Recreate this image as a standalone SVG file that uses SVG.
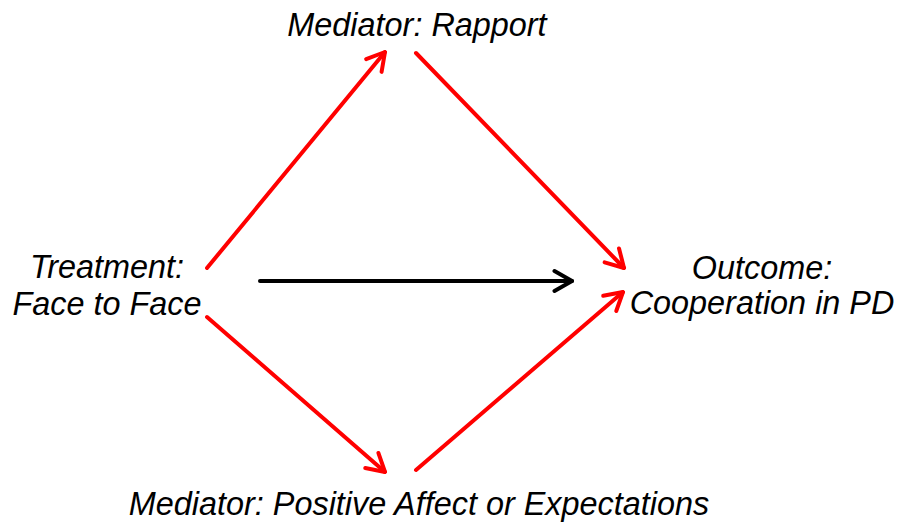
<svg xmlns="http://www.w3.org/2000/svg" width="897" height="522" viewBox="0 0 897 522">
<style>
text{font-family:"Liberation Sans",Arial,sans-serif;font-style:italic;font-size:32.4px;fill:#000;text-anchor:middle}
.red{stroke:#ff0000;stroke-width:4;fill:none;stroke-linecap:round}
.blk{stroke:#000;stroke-width:4;fill:none;stroke-linecap:round}
</style>
<defs>
<marker id="ab" viewBox="-20 -13 22 26" markerWidth="22" markerHeight="26" refX="0" refY="0" orient="auto" markerUnits="userSpaceOnUse">
<path d="M-17.5,-10 L0,0 L-17.5,10" fill="none" stroke="#000" stroke-width="4" stroke-linecap="round" stroke-linejoin="round"/>
</marker>
<marker id="ar2" viewBox="-20 -13 22 26" markerWidth="22" markerHeight="26" refX="0" refY="0" orient="auto" markerUnits="userSpaceOnUse">
<path d="M-17.5,-10 L0,0 L-17.5,10" fill="none" stroke="#ff0000" stroke-width="4" stroke-linecap="round" stroke-linejoin="round"/>
</marker>
</defs>
<g id="connectors">
<line class="red" x1="207" y1="268" x2="385" y2="52" marker-end="url(#ar2)"/>
<line class="red" x1="416" y1="53" x2="624" y2="268" marker-end="url(#ar2)"/>
<line class="blk" x1="260" y1="281" x2="572" y2="281" marker-end="url(#ab)"/>
<line class="red" x1="416" y1="470" x2="623" y2="292" marker-end="url(#ar2)"/>
<line class="red" x1="207" y1="317" x2="385" y2="472" marker-end="url(#ar2)"/>
</g>
<g id="rapport"><text x="417" y="36">Mediator: Rapport</text></g>
<g id="treatment"><text x="107" y="278">Treatment:</text><text x="107" y="315">Face to Face</text></g>
<g id="outcome"><text x="762" y="279">Outcome:</text><text x="762" y="314">Cooperation in PD</text></g>
<g id="affect"><text x="419" y="515">Mediator: Positive Affect or Expectations</text></g>
</svg>
